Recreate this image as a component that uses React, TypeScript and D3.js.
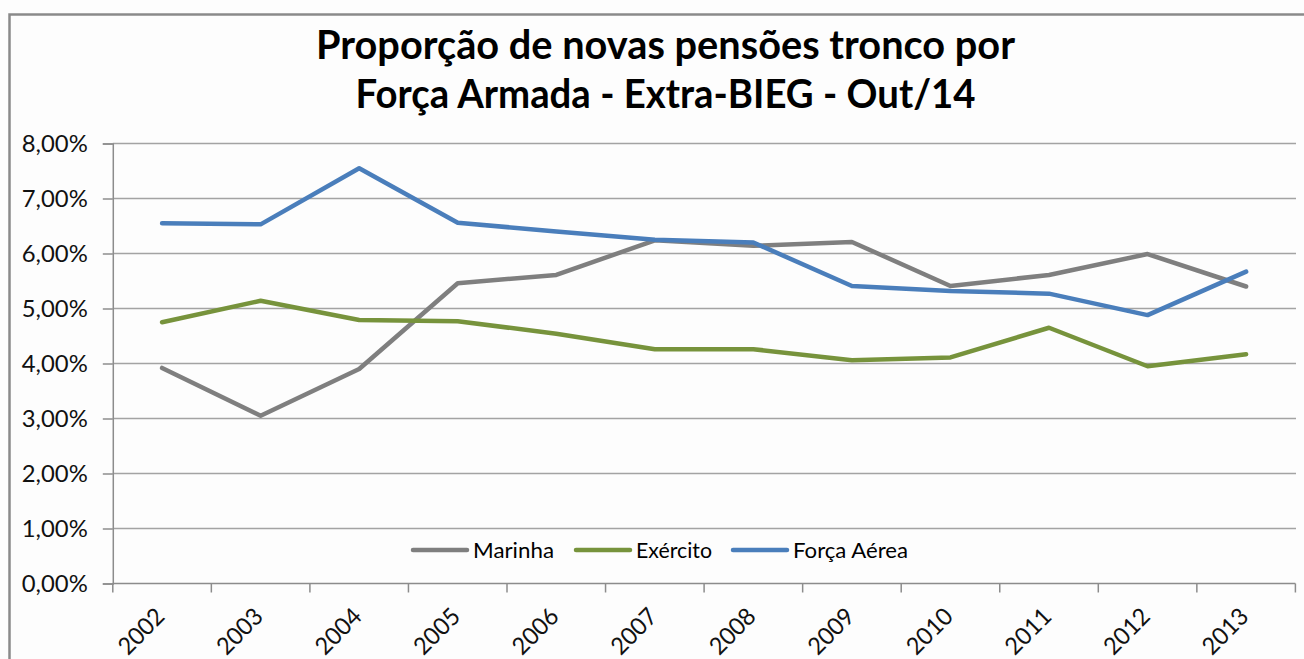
import React, { useEffect, useRef } from 'react';
import * as d3 from 'd3';

const years = ['2002', '2003', '2004', '2005', '2006', '2007', '2008', '2009', '2010', '2011', '2012', '2013'];
const marinha = [3.92, 3.05, 3.9, 5.46, 5.61, 6.24, 6.14, 6.21, 5.41, 5.61, 5.99, 5.4];
const exercito = [4.75, 5.14, 4.79, 4.77, 4.54, 4.26, 4.26, 4.06, 4.11, 4.65, 3.95, 4.17];
const forcaAerea = [6.55, 6.53, 7.55, 6.56, 6.4, 6.25, 6.2, 5.41, 5.32, 5.27, 4.88, 5.67];
const yTicks = [0, 1, 2, 3, 4, 5, 6, 7, 8];
const titleLines = ['Proporção de novas pensões tronco por', 'Força Armada - Extra-BIEG - Out/14'];

const series = [
  { name: 'Marinha', values: marinha, color: '#7f7f7f' },
  { name: 'Exército', values: exercito, color: '#77933c' },
  { name: 'Força Aérea', values: forcaAerea, color: '#4a7ebb' },
];

const W = 1304;
const H = 659;
const FONT = 'Lato, "Open Sans", sans-serif';

export default function App() {
  const ref = useRef<SVGSVGElement>(null);

  useEffect(() => {
    const svg = d3.select(ref.current);
    svg.selectAll('*').remove();

    // frame of the chart object
    svg.append('rect').attr('width', W).attr('height', H).attr('fill', '#fdfdfd');
    svg.append('path')
      .attr('d', `M9.5,${H + 5}V14.5H${W + 5}`)
      .attr('fill', 'none')
      .attr('stroke', '#8a8a8a')
      .attr('stroke-width', 2.5);

    // title
    const titleWidths = [699, 620];
    svg.append('g').selectAll('text')
      .data(titleLines)
      .enter()
      .append('text')
      .attr('x', 665.5)
      .attr('y', (d, i) => 59 + i * 49)
      .attr('text-anchor', 'middle')
      .attr('font-family', FONT)
      .attr('font-weight', 'bold')
      .attr('font-size', 41)
      .attr('fill', '#000')
      .attr('textLength', (d, i) => titleWidths[i])
      .attr('lengthAdjust', 'spacingAndGlyphs')
      .text(d => d);

    const x = d3.scaleBand().domain(years).range([112.8, 1295.4]);
    const y = d3.scaleLinear().domain([0, 8]).range([583.5, 143.5]);

    // gridlines
    svg.append('g').selectAll('line')
      .data(yTicks.slice(1))
      .enter()
      .append('line')
      .attr('x1', 112.8)
      .attr('x2', 1296)
      .attr('y1', d => y(d))
      .attr('y2', d => y(d))
      .attr('stroke', '#a3a3a3')
      .attr('stroke-width', 1.5);

    // y axis
    const yAxis = svg.append('g')
      .attr('transform', 'translate(112.8,0)')
      .call(d3.axisLeft(y).tickValues(yTicks).tickSize(10).tickPadding(15)
        .tickFormat(d => (d as number).toFixed(2).replace('.', ',') + '%'));
    yAxis.select('.domain').attr('stroke', '#8c8c8c').attr('stroke-width', 1.5);
    yAxis.selectAll('.tick line').attr('stroke', '#8c8c8c').attr('stroke-width', 1.5);
    yAxis.selectAll('.tick text')
      .attr('font-family', FONT)
      .attr('font-size', 23)
      .attr('fill', '#111')
      .attr('dy', '0.36em')
      .attr('textLength', 66)
      .attr('lengthAdjust', 'spacingAndGlyphs');

    // x axis
    const xAxisG = svg.append('g').attr('transform', 'translate(0,583.5)');
    xAxisG.append('line')
      .attr('x1', 112.8).attr('x2', 1295.4)
      .attr('stroke', '#8c8c8c').attr('stroke-width', 1.5);
    const bounds = years.map(d => x(d) as number).concat([1295.4]);
    xAxisG.selectAll('line.tk')
      .data(bounds)
      .enter()
      .append('line')
      .attr('class', 'tk')
      .attr('x1', d => d).attr('x2', d => d)
      .attr('y1', 0).attr('y2', 9)
      .attr('stroke', '#8c8c8c').attr('stroke-width', 1.5);
    svg.append('g').selectAll('text')
      .data(years)
      .enter()
      .append('text')
      .attr('transform', d => `translate(${(x(d) as number) + x.bandwidth() / 2 + 4},618) rotate(-45)`)
      .attr('text-anchor', 'end')
      .attr('font-family', FONT)
      .attr('font-size', 24)
      .attr('fill', '#111')
      .attr('textLength', 54)
      .attr('lengthAdjust', 'spacingAndGlyphs')
      .text(d => d);

    // lines
    const line = d3.line<number>()
      .x((d, i) => (x(years[i]) as number) + x.bandwidth() / 2)
      .y(d => y(d));
    svg.append('g').selectAll('path')
      .data(series)
      .enter()
      .append('path')
      .attr('d', s => line(s.values))
      .attr('fill', 'none')
      .attr('stroke', s => s.color)
      .attr('stroke-width', 4.5)
      .attr('stroke-linejoin', 'round')
      .attr('stroke-linecap', 'round');

    // legend
    const legendX = [413, 576, 733];
    const legendTextW = [81, 76, 115];
    const lg = svg.append('g').selectAll('g')
      .data(series)
      .enter()
      .append('g')
      .attr('transform', (d, i) => `translate(${legendX[i]},550)`);
    lg.append('line')
      .attr('x1', 0).attr('x2', 54)
      .attr('stroke', d => d.color)
      .attr('stroke-width', 4.5)
      .attr('stroke-linecap', 'round');
    lg.append('text')
      .attr('x', 60)
      .attr('y', 7.5)
      .attr('font-family', FONT)
      .attr('font-size', 22)
      .attr('fill', '#000')
      .attr('textLength', (d, i) => legendTextW[i])
      .attr('lengthAdjust', 'spacingAndGlyphs')
      .text(d => d.name);
  }, []);

  return (
    <svg ref={ref} width={W} height={H} style={{ position: 'absolute', left: 0, top: 0 }} />
  );
}
